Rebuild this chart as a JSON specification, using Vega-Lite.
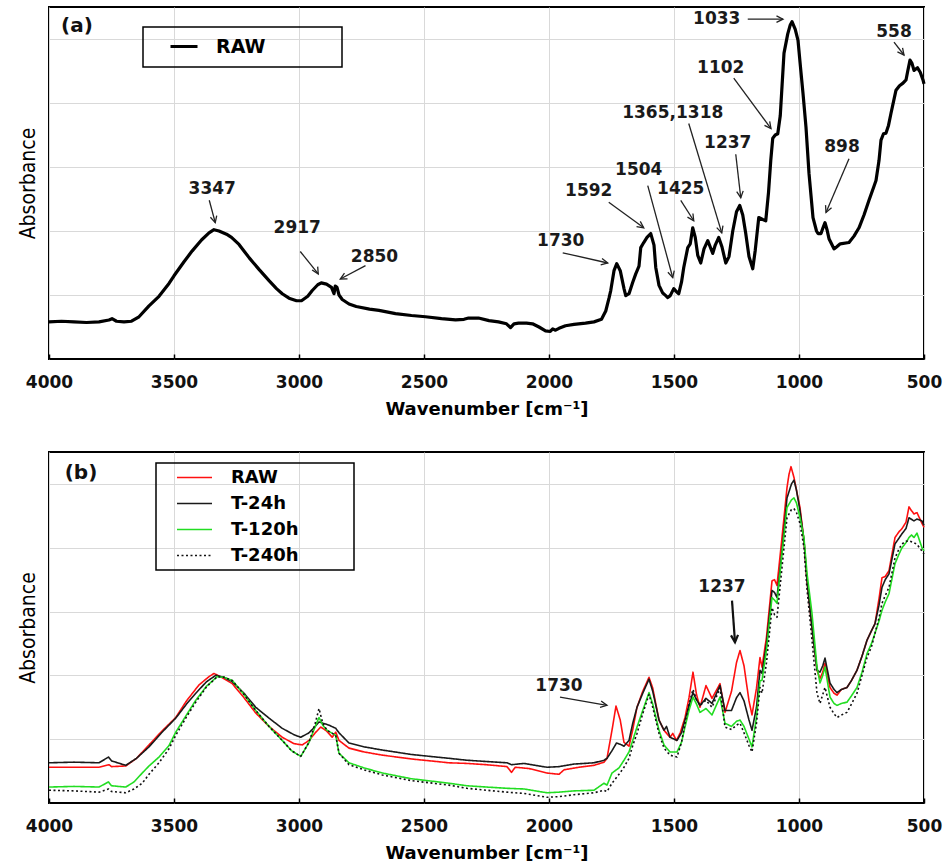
{
"$schema": "https://vega.github.io/schema/vega-lite/v6.json",
"padding": {"left": 16, "top": 6, "right": 5, "bottom": 5},
"spacing": 32,
"background": "white",
"config": {
  "view": {"stroke": "#000", "strokeWidth": 2},
  "font": "DejaVu Sans",
  "axis": {"domain": false, "gridColor": "#d9d9d9", "gridWidth": 1, "labelColor": "#111", "titleColor": "#000", "tickColor": "#000"},
  "legend": {"strokeWidth": 1.5}
},
"resolve": {"scale": {"x": "independent", "y": "independent", "color": "independent", "strokeDash": "independent"}, "legend": {"color": "independent", "strokeDash": "independent"}},
"datasets": {
  "specA": [
{"wn":4000,"abs":0.58},{"wn":3950,"abs":0.59},{"wn":3900,"abs":0.58},{"wn":3850,"abs":0.57},{"wn":3800,"abs":0.58},{"wn":3760,"abs":0.61},{"wn":3748,"abs":0.63},{"wn":3730,"abs":0.59},{"wn":3700,"abs":0.58},{"wn":3670,"abs":0.59},{"wn":3640,"abs":0.66},{"wn":3600,"abs":0.83},{"wn":3560,"abs":0.98},{"wn":3520,"abs":1.18},{"wn":3500,"abs":1.30},{"wn":3460,"abs":1.52},{"wn":3427,"abs":1.69},{"wn":3390,"abs":1.86},{"wn":3360,"abs":1.97},{"wn":3340,"abs":2.02},{"wn":3320,"abs":2.00},{"wn":3290,"abs":1.95},{"wn":3270,"abs":1.90},{"wn":3240,"abs":1.79},{"wn":3199,"abs":1.58},{"wn":3160,"abs":1.40},{"wn":3119,"abs":1.22},{"wn":3090,"abs":1.10},{"wn":3067,"abs":1.02},{"wn":3040,"abs":0.95},{"wn":3010,"abs":0.91},{"wn":2990,"abs":0.91},{"wn":2965,"abs":0.98},{"wn":2947,"abs":1.07},{"wn":2925,"abs":1.16},{"wn":2911,"abs":1.19},{"wn":2890,"abs":1.17},{"wn":2870,"abs":1.12},{"wn":2860,"abs":1.02},{"wn":2855,"abs":1.14},{"wn":2848,"abs":1.12},{"wn":2840,"abs":1.00},{"wn":2827,"abs":0.93},{"wn":2800,"abs":0.86},{"wn":2771,"abs":0.82},{"wn":2718,"abs":0.78},{"wn":2680,"abs":0.76},{"wn":2614,"abs":0.71},{"wn":2550,"abs":0.68},{"wn":2494,"abs":0.66},{"wn":2430,"abs":0.63},{"wn":2374,"abs":0.61},{"wn":2340,"abs":0.62},{"wn":2322,"abs":0.64},{"wn":2282,"abs":0.64},{"wn":2240,"abs":0.60},{"wn":2202,"abs":0.58},{"wn":2170,"abs":0.55},{"wn":2154,"abs":0.49},{"wn":2140,"abs":0.55},{"wn":2122,"abs":0.56},{"wn":2090,"abs":0.56},{"wn":2066,"abs":0.55},{"wn":2040,"abs":0.50},{"wn":2014,"abs":0.44},{"wn":1995,"abs":0.43},{"wn":1985,"abs":0.47},{"wn":1974,"abs":0.45},{"wn":1960,"abs":0.48},{"wn":1934,"abs":0.52},{"wn":1900,"abs":0.54},{"wn":1854,"abs":0.56},{"wn":1820,"abs":0.58},{"wn":1790,"abs":0.62},{"wn":1773,"abs":0.75},{"wn":1760,"abs":0.95},{"wn":1753,"abs":1.07},{"wn":1740,"abs":1.38},{"wn":1729,"abs":1.49},{"wn":1715,"abs":1.38},{"wn":1700,"abs":1.10},{"wn":1693,"abs":0.99},{"wn":1680,"abs":1.02},{"wn":1665,"abs":1.20},{"wn":1653,"abs":1.33},{"wn":1640,"abs":1.45},{"wn":1633,"abs":1.74},{"wn":1621,"abs":1.82},{"wn":1608,"abs":1.90},{"wn":1593,"abs":1.96},{"wn":1580,"abs":1.78},{"wn":1573,"abs":1.43},{"wn":1560,"abs":1.15},{"wn":1545,"abs":1.03},{"wn":1533,"abs":0.99},{"wn":1525,"abs":0.96},{"wn":1515,"abs":0.99},{"wn":1501,"abs":1.10},{"wn":1490,"abs":1.05},{"wn":1481,"abs":1.02},{"wn":1470,"abs":1.20},{"wn":1461,"abs":1.43},{"wn":1445,"abs":1.74},{"wn":1435,"abs":1.80},{"wn":1425,"abs":2.05},{"wn":1415,"abs":1.90},{"wn":1405,"abs":1.62},{"wn":1393,"abs":1.50},{"wn":1380,"abs":1.72},{"wn":1365,"abs":1.85},{"wn":1355,"abs":1.75},{"wn":1345,"abs":1.65},{"wn":1335,"abs":1.78},{"wn":1321,"abs":1.90},{"wn":1308,"abs":1.75},{"wn":1293,"abs":1.50},{"wn":1280,"abs":1.60},{"wn":1265,"abs":2.00},{"wn":1250,"abs":2.30},{"wn":1237,"abs":2.40},{"wn":1225,"abs":2.25},{"wn":1213,"abs":1.96},{"wn":1200,"abs":1.60},{"wn":1185,"abs":1.41},{"wn":1175,"abs":1.70},{"wn":1161,"abs":2.21},{"wn":1145,"abs":2.18},{"wn":1133,"abs":2.16},{"wn":1122,"abs":2.60},{"wn":1113,"abs":3.10},{"wn":1105,"abs":3.45},{"wn":1095,"abs":3.50},{"wn":1085,"abs":3.52},{"wn":1075,"abs":3.80},{"wn":1060,"abs":4.78},{"wn":1045,"abs":5.08},{"wn":1035,"abs":5.22},{"wn":1028,"abs":5.27},{"wn":1015,"abs":5.15},{"wn":1004,"abs":4.98},{"wn":995,"abs":4.60},{"wn":984,"abs":4.15},{"wn":972,"abs":3.62},{"wn":960,"abs":2.90},{"wn":944,"abs":2.21},{"wn":930,"abs":2.00},{"wn":924,"abs":1.96},{"wn":912,"abs":1.96},{"wn":904,"abs":2.05},{"wn":896,"abs":2.13},{"wn":888,"abs":2.02},{"wn":880,"abs":1.88},{"wn":870,"abs":1.80},{"wn":860,"abs":1.72},{"wn":850,"abs":1.75},{"wn":835,"abs":1.80},{"wn":800,"abs":1.82},{"wn":780,"abs":1.92},{"wn":760,"abs":2.05},{"wn":740,"abs":2.25},{"wn":720,"abs":2.48},{"wn":700,"abs":2.70},{"wn":692,"abs":2.79},{"wn":680,"abs":3.10},{"wn":672,"abs":3.42},{"wn":662,"abs":3.52},{"wn":652,"abs":3.53},{"wn":642,"abs":3.65},{"wn":632,"abs":3.84},{"wn":612,"abs":4.20},{"wn":598,"abs":4.27},{"wn":584,"abs":4.31},{"wn":572,"abs":4.36},{"wn":565,"abs":4.50},{"wn":556,"abs":4.67},{"wn":548,"abs":4.62},{"wn":540,"abs":4.51},{"wn":526,"abs":4.55},{"wn":515,"abs":4.48},{"wn":504,"abs":4.36},{"wn":500,"abs":4.30}
  ],
  "specB": [
{"series":"RAW","wn":4000,"abs":0.56},{"series":"RAW","wn":3900,"abs":0.56},{"series":"RAW","wn":3800,"abs":0.56},{"series":"RAW","wn":3760,"abs":0.60},{"series":"RAW","wn":3750,"abs":0.57},{"series":"RAW","wn":3693,"abs":0.58},{"series":"RAW","wn":3650,"abs":0.70},{"series":"RAW","wn":3600,"abs":0.91},{"series":"RAW","wn":3550,"abs":1.12},{"series":"RAW","wn":3493,"abs":1.34},{"series":"RAW","wn":3450,"abs":1.60},{"series":"RAW","wn":3400,"abs":1.85},{"series":"RAW","wn":3360,"abs":1.98},{"series":"RAW","wn":3340,"abs":2.03},{"series":"RAW","wn":3310,"abs":1.97},{"series":"RAW","wn":3267,"abs":1.87},{"series":"RAW","wn":3220,"abs":1.65},{"series":"RAW","wn":3173,"abs":1.41},{"series":"RAW","wn":3120,"abs":1.20},{"series":"RAW","wn":3067,"abs":1.03},{"series":"RAW","wn":3020,"abs":0.93},{"series":"RAW","wn":2987,"abs":0.91},{"series":"RAW","wn":2960,"abs":0.98},{"series":"RAW","wn":2935,"abs":1.10},{"series":"RAW","wn":2913,"abs":1.19},{"series":"RAW","wn":2890,"abs":1.13},{"series":"RAW","wn":2867,"abs":1.03},{"series":"RAW","wn":2853,"abs":1.11},{"series":"RAW","wn":2840,"abs":0.98},{"series":"RAW","wn":2800,"abs":0.86},{"series":"RAW","wn":2740,"abs":0.80},{"series":"RAW","wn":2667,"abs":0.75},{"series":"RAW","wn":2550,"abs":0.69},{"series":"RAW","wn":2400,"abs":0.63},{"series":"RAW","wn":2328,"abs":0.62},{"series":"RAW","wn":2250,"abs":0.60},{"series":"RAW","wn":2168,"abs":0.57},{"series":"RAW","wn":2150,"abs":0.48},{"series":"RAW","wn":2135,"abs":0.56},{"series":"RAW","wn":2080,"abs":0.54},{"series":"RAW","wn":2008,"abs":0.47},{"series":"RAW","wn":1985,"abs":0.46},{"series":"RAW","wn":1960,"abs":0.45},{"series":"RAW","wn":1940,"abs":0.52},{"series":"RAW","wn":1880,"abs":0.56},{"series":"RAW","wn":1820,"abs":0.59},{"series":"RAW","wn":1780,"abs":0.64},{"series":"RAW","wn":1768,"abs":0.70},{"series":"RAW","wn":1748,"abs":1.14},{"series":"RAW","wn":1732,"abs":1.52},{"series":"RAW","wn":1715,"abs":1.30},{"series":"RAW","wn":1700,"abs":0.95},{"series":"RAW","wn":1680,"abs":0.89},{"series":"RAW","wn":1665,"abs":1.15},{"series":"RAW","wn":1648,"abs":1.50},{"series":"RAW","wn":1625,"abs":1.75},{"series":"RAW","wn":1600,"abs":1.97},{"series":"RAW","wn":1585,"abs":1.80},{"series":"RAW","wn":1560,"abs":1.30},{"series":"RAW","wn":1540,"abs":1.14},{"series":"RAW","wn":1516,"abs":1.03},{"series":"RAW","wn":1505,"abs":1.09},{"series":"RAW","wn":1490,"abs":0.98},{"series":"RAW","wn":1475,"abs":1.10},{"series":"RAW","wn":1456,"abs":1.34},{"series":"RAW","wn":1440,"abs":1.65},{"series":"RAW","wn":1424,"abs":2.05},{"series":"RAW","wn":1410,"abs":1.70},{"series":"RAW","wn":1396,"abs":1.50},{"series":"RAW","wn":1372,"abs":1.84},{"series":"RAW","wn":1348,"abs":1.64},{"series":"RAW","wn":1316,"abs":1.87},{"series":"RAW","wn":1296,"abs":1.42},{"series":"RAW","wn":1270,"abs":1.75},{"series":"RAW","wn":1250,"abs":2.20},{"series":"RAW","wn":1236,"abs":2.39},{"series":"RAW","wn":1220,"abs":2.15},{"series":"RAW","wn":1200,"abs":1.60},{"series":"RAW","wn":1188,"abs":1.38},{"series":"RAW","wn":1170,"abs":1.80},{"series":"RAW","wn":1156,"abs":2.28},{"series":"RAW","wn":1148,"abs":2.13},{"series":"RAW","wn":1130,"abs":2.60},{"series":"RAW","wn":1108,"abs":3.48},{"series":"RAW","wn":1098,"abs":3.50},{"series":"RAW","wn":1088,"abs":3.41},{"series":"RAW","wn":1068,"abs":4.16},{"series":"RAW","wn":1048,"abs":4.94},{"series":"RAW","wn":1040,"abs":5.15},{"series":"RAW","wn":1032,"abs":5.27},{"series":"RAW","wn":1020,"abs":5.10},{"series":"RAW","wn":1010,"abs":4.90},{"series":"RAW","wn":996,"abs":4.63},{"series":"RAW","wn":980,"abs":4.11},{"series":"RAW","wn":968,"abs":3.48},{"series":"RAW","wn":948,"abs":2.75},{"series":"RAW","wn":928,"abs":2.08},{"series":"RAW","wn":916,"abs":1.95},{"series":"RAW","wn":905,"abs":2.05},{"series":"RAW","wn":896,"abs":2.19},{"series":"RAW","wn":876,"abs":1.81},{"series":"RAW","wn":860,"abs":1.72},{"series":"RAW","wn":848,"abs":1.69},{"series":"RAW","wn":830,"abs":1.78},{"series":"RAW","wn":808,"abs":1.81},{"series":"RAW","wn":790,"abs":1.92},{"series":"RAW","wn":768,"abs":2.08},{"series":"RAW","wn":748,"abs":2.30},{"series":"RAW","wn":728,"abs":2.55},{"series":"RAW","wn":710,"abs":2.70},{"series":"RAW","wn":696,"abs":2.81},{"series":"RAW","wn":680,"abs":3.20},{"series":"RAW","wn":668,"abs":3.53},{"series":"RAW","wn":655,"abs":3.55},{"series":"RAW","wn":640,"abs":3.64},{"series":"RAW","wn":616,"abs":4.16},{"series":"RAW","wn":600,"abs":4.25},{"series":"RAW","wn":588,"abs":4.30},{"series":"RAW","wn":572,"abs":4.40},{"series":"RAW","wn":560,"abs":4.64},{"series":"RAW","wn":550,"abs":4.58},{"series":"RAW","wn":540,"abs":4.53},{"series":"RAW","wn":528,"abs":4.55},{"series":"RAW","wn":508,"abs":4.38},{"series":"RAW","wn":500,"abs":4.32},
{"series":"T-24h","wn":4000,"abs":0.63},{"series":"T-24h","wn":3900,"abs":0.64},{"series":"T-24h","wn":3800,"abs":0.63},{"series":"T-24h","wn":3762,"abs":0.72},{"series":"T-24h","wn":3750,"abs":0.66},{"series":"T-24h","wn":3693,"abs":0.59},{"series":"T-24h","wn":3650,"abs":0.70},{"series":"T-24h","wn":3600,"abs":0.88},{"series":"T-24h","wn":3550,"abs":1.10},{"series":"T-24h","wn":3493,"abs":1.33},{"series":"T-24h","wn":3450,"abs":1.55},{"series":"T-24h","wn":3413,"abs":1.72},{"series":"T-24h","wn":3370,"abs":1.90},{"series":"T-24h","wn":3333,"abs":2.00},{"series":"T-24h","wn":3300,"abs":1.97},{"series":"T-24h","wn":3267,"abs":1.90},{"series":"T-24h","wn":3220,"abs":1.72},{"series":"T-24h","wn":3173,"abs":1.50},{"series":"T-24h","wn":3120,"abs":1.33},{"series":"T-24h","wn":3067,"abs":1.17},{"series":"T-24h","wn":3020,"abs":1.07},{"series":"T-24h","wn":2993,"abs":1.03},{"series":"T-24h","wn":2960,"abs":1.10},{"series":"T-24h","wn":2935,"abs":1.20},{"series":"T-24h","wn":2920,"abs":1.27},{"series":"T-24h","wn":2880,"abs":1.22},{"series":"T-24h","wn":2853,"abs":1.17},{"series":"T-24h","wn":2840,"abs":1.10},{"series":"T-24h","wn":2800,"abs":0.94},{"series":"T-24h","wn":2740,"abs":0.88},{"series":"T-24h","wn":2667,"abs":0.83},{"series":"T-24h","wn":2550,"abs":0.76},{"series":"T-24h","wn":2400,"abs":0.70},{"series":"T-24h","wn":2328,"abs":0.67},{"series":"T-24h","wn":2250,"abs":0.65},{"series":"T-24h","wn":2168,"abs":0.63},{"series":"T-24h","wn":2150,"abs":0.60},{"series":"T-24h","wn":2100,"abs":0.62},{"series":"T-24h","wn":2008,"abs":0.56},{"series":"T-24h","wn":1960,"abs":0.57},{"series":"T-24h","wn":1900,"abs":0.61},{"series":"T-24h","wn":1820,"abs":0.63},{"series":"T-24h","wn":1780,"abs":0.67},{"series":"T-24h","wn":1768,"abs":0.70},{"series":"T-24h","wn":1748,"abs":0.82},{"series":"T-24h","wn":1730,"abs":0.94},{"series":"T-24h","wn":1715,"abs":0.92},{"series":"T-24h","wn":1700,"abs":0.89},{"series":"T-24h","wn":1680,"abs":0.98},{"series":"T-24h","wn":1665,"abs":1.25},{"series":"T-24h","wn":1648,"abs":1.50},{"series":"T-24h","wn":1625,"abs":1.72},{"series":"T-24h","wn":1600,"abs":1.94},{"series":"T-24h","wn":1585,"abs":1.75},{"series":"T-24h","wn":1560,"abs":1.30},{"series":"T-24h","wn":1540,"abs":1.14},{"series":"T-24h","wn":1530,"abs":1.20},{"series":"T-24h","wn":1516,"abs":1.03},{"series":"T-24h","wn":1488,"abs":0.98},{"series":"T-24h","wn":1470,"abs":1.10},{"series":"T-24h","wn":1456,"abs":1.30},{"series":"T-24h","wn":1440,"abs":1.52},{"series":"T-24h","wn":1424,"abs":1.73},{"series":"T-24h","wn":1410,"abs":1.62},{"series":"T-24h","wn":1396,"abs":1.53},{"series":"T-24h","wn":1372,"abs":1.64},{"series":"T-24h","wn":1348,"abs":1.56},{"series":"T-24h","wn":1316,"abs":1.84},{"series":"T-24h","wn":1296,"abs":1.45},{"series":"T-24h","wn":1270,"abs":1.45},{"series":"T-24h","wn":1250,"abs":1.65},{"series":"T-24h","wn":1236,"abs":1.73},{"series":"T-24h","wn":1220,"abs":1.60},{"series":"T-24h","wn":1200,"abs":1.30},{"series":"T-24h","wn":1188,"abs":1.14},{"series":"T-24h","wn":1170,"abs":1.50},{"series":"T-24h","wn":1156,"abs":2.08},{"series":"T-24h","wn":1148,"abs":2.03},{"series":"T-24h","wn":1130,"abs":2.50},{"series":"T-24h","wn":1108,"abs":3.33},{"series":"T-24h","wn":1098,"abs":3.30},{"series":"T-24h","wn":1088,"abs":3.22},{"series":"T-24h","wn":1068,"abs":3.95},{"series":"T-24h","wn":1048,"abs":4.78},{"series":"T-24h","wn":1030,"abs":5.00},{"series":"T-24h","wn":1020,"abs":5.06},{"series":"T-24h","wn":1010,"abs":4.90},{"series":"T-24h","wn":996,"abs":4.58},{"series":"T-24h","wn":980,"abs":4.11},{"series":"T-24h","wn":968,"abs":3.48},{"series":"T-24h","wn":948,"abs":2.75},{"series":"T-24h","wn":928,"abs":2.08},{"series":"T-24h","wn":916,"abs":2.05},{"series":"T-24h","wn":905,"abs":2.15},{"series":"T-24h","wn":896,"abs":2.27},{"series":"T-24h","wn":876,"abs":1.88},{"series":"T-24h","wn":860,"abs":1.78},{"series":"T-24h","wn":848,"abs":1.73},{"series":"T-24h","wn":830,"abs":1.78},{"series":"T-24h","wn":808,"abs":1.81},{"series":"T-24h","wn":790,"abs":1.92},{"series":"T-24h","wn":768,"abs":2.08},{"series":"T-24h","wn":748,"abs":2.30},{"series":"T-24h","wn":728,"abs":2.55},{"series":"T-24h","wn":710,"abs":2.70},{"series":"T-24h","wn":696,"abs":2.81},{"series":"T-24h","wn":680,"abs":3.10},{"series":"T-24h","wn":668,"abs":3.38},{"series":"T-24h","wn":655,"abs":3.50},{"series":"T-24h","wn":640,"abs":3.59},{"series":"T-24h","wn":616,"abs":4.06},{"series":"T-24h","wn":600,"abs":4.15},{"series":"T-24h","wn":588,"abs":4.22},{"series":"T-24h","wn":572,"abs":4.30},{"series":"T-24h","wn":560,"abs":4.47},{"series":"T-24h","wn":540,"abs":4.42},{"series":"T-24h","wn":528,"abs":4.45},{"series":"T-24h","wn":508,"abs":4.42},{"series":"T-24h","wn":500,"abs":4.35},
{"series":"T-120h","wn":4000,"abs":0.25},{"series":"T-120h","wn":3900,"abs":0.26},{"series":"T-120h","wn":3800,"abs":0.25},{"series":"T-120h","wn":3762,"abs":0.33},{"series":"T-120h","wn":3750,"abs":0.27},{"series":"T-120h","wn":3693,"abs":0.25},{"series":"T-120h","wn":3660,"abs":0.33},{"series":"T-120h","wn":3627,"abs":0.47},{"series":"T-120h","wn":3600,"abs":0.58},{"series":"T-120h","wn":3560,"abs":0.72},{"series":"T-120h","wn":3520,"abs":0.90},{"series":"T-120h","wn":3493,"abs":1.11},{"series":"T-120h","wn":3450,"abs":1.38},{"series":"T-120h","wn":3413,"abs":1.61},{"series":"T-120h","wn":3370,"abs":1.83},{"series":"T-120h","wn":3327,"abs":1.98},{"series":"T-120h","wn":3300,"abs":1.97},{"series":"T-120h","wn":3267,"abs":1.92},{"series":"T-120h","wn":3220,"abs":1.70},{"series":"T-120h","wn":3173,"abs":1.45},{"series":"T-120h","wn":3120,"abs":1.20},{"series":"T-120h","wn":3067,"abs":0.98},{"series":"T-120h","wn":3030,"abs":0.82},{"series":"T-120h","wn":2993,"abs":0.73},{"series":"T-120h","wn":2960,"abs":0.95},{"series":"T-120h","wn":2935,"abs":1.20},{"series":"T-120h","wn":2920,"abs":1.34},{"series":"T-120h","wn":2905,"abs":1.22},{"series":"T-120h","wn":2888,"abs":1.14},{"series":"T-120h","wn":2853,"abs":1.06},{"series":"T-120h","wn":2840,"abs":0.78},{"series":"T-120h","wn":2800,"abs":0.63},{"series":"T-120h","wn":2740,"abs":0.55},{"series":"T-120h","wn":2667,"abs":0.47},{"series":"T-120h","wn":2550,"abs":0.38},{"series":"T-120h","wn":2400,"abs":0.31},{"series":"T-120h","wn":2328,"abs":0.27},{"series":"T-120h","wn":2250,"abs":0.25},{"series":"T-120h","wn":2168,"abs":0.23},{"series":"T-120h","wn":2100,"abs":0.22},{"series":"T-120h","wn":2008,"abs":0.16},{"series":"T-120h","wn":1960,"abs":0.17},{"series":"T-120h","wn":1900,"abs":0.19},{"series":"T-120h","wn":1820,"abs":0.20},{"series":"T-120h","wn":1780,"abs":0.31},{"series":"T-120h","wn":1768,"abs":0.28},{"series":"T-120h","wn":1748,"abs":0.47},{"series":"T-120h","wn":1720,"abs":0.55},{"series":"T-120h","wn":1700,"abs":0.67},{"series":"T-120h","wn":1680,"abs":0.80},{"series":"T-120h","wn":1665,"abs":0.98},{"series":"T-120h","wn":1648,"abs":1.19},{"series":"T-120h","wn":1625,"abs":1.45},{"series":"T-120h","wn":1600,"abs":1.73},{"series":"T-120h","wn":1585,"abs":1.55},{"series":"T-120h","wn":1560,"abs":1.14},{"series":"T-120h","wn":1540,"abs":0.91},{"series":"T-120h","wn":1516,"abs":0.80},{"series":"T-120h","wn":1488,"abs":0.80},{"series":"T-120h","wn":1470,"abs":0.95},{"series":"T-120h","wn":1456,"abs":1.19},{"series":"T-120h","wn":1440,"abs":1.45},{"series":"T-120h","wn":1424,"abs":1.66},{"series":"T-120h","wn":1410,"abs":1.55},{"series":"T-120h","wn":1396,"abs":1.42},{"series":"T-120h","wn":1372,"abs":1.48},{"series":"T-120h","wn":1348,"abs":1.38},{"series":"T-120h","wn":1316,"abs":1.66},{"series":"T-120h","wn":1296,"abs":1.25},{"series":"T-120h","wn":1270,"abs":1.20},{"series":"T-120h","wn":1250,"abs":1.28},{"series":"T-120h","wn":1236,"abs":1.30},{"series":"T-120h","wn":1220,"abs":1.20},{"series":"T-120h","wn":1200,"abs":1.00},{"series":"T-120h","wn":1188,"abs":0.88},{"series":"T-120h","wn":1170,"abs":1.35},{"series":"T-120h","wn":1156,"abs":1.92},{"series":"T-120h","wn":1148,"abs":1.92},{"series":"T-120h","wn":1130,"abs":2.40},{"series":"T-120h","wn":1108,"abs":3.22},{"series":"T-120h","wn":1098,"abs":3.18},{"series":"T-120h","wn":1088,"abs":3.13},{"series":"T-120h","wn":1068,"abs":3.91},{"series":"T-120h","wn":1048,"abs":4.63},{"series":"T-120h","wn":1030,"abs":4.75},{"series":"T-120h","wn":1020,"abs":4.78},{"series":"T-120h","wn":1010,"abs":4.70},{"series":"T-120h","wn":996,"abs":4.47},{"series":"T-120h","wn":980,"abs":4.15},{"series":"T-120h","wn":968,"abs":3.60},{"series":"T-120h","wn":948,"abs":2.97},{"series":"T-120h","wn":928,"abs":2.13},{"series":"T-120h","wn":916,"abs":1.88},{"series":"T-120h","wn":905,"abs":2.00},{"series":"T-120h","wn":896,"abs":2.13},{"series":"T-120h","wn":876,"abs":1.66},{"series":"T-120h","wn":860,"abs":1.56},{"series":"T-120h","wn":848,"abs":1.53},{"series":"T-120h","wn":830,"abs":1.56},{"series":"T-120h","wn":808,"abs":1.58},{"series":"T-120h","wn":790,"abs":1.68},{"series":"T-120h","wn":768,"abs":1.81},{"series":"T-120h","wn":748,"abs":2.05},{"series":"T-120h","wn":728,"abs":2.34},{"series":"T-120h","wn":710,"abs":2.50},{"series":"T-120h","wn":696,"abs":2.66},{"series":"T-120h","wn":680,"abs":2.85},{"series":"T-120h","wn":668,"abs":3.02},{"series":"T-120h","wn":655,"abs":3.15},{"series":"T-120h","wn":640,"abs":3.28},{"series":"T-120h","wn":616,"abs":3.75},{"series":"T-120h","wn":600,"abs":3.90},{"series":"T-120h","wn":588,"abs":4.00},{"series":"T-120h","wn":572,"abs":4.08},{"series":"T-120h","wn":560,"abs":4.16},{"series":"T-120h","wn":550,"abs":4.20},{"series":"T-120h","wn":540,"abs":4.16},{"series":"T-120h","wn":528,"abs":4.23},{"series":"T-120h","wn":508,"abs":4.00},{"series":"T-120h","wn":500,"abs":3.95},
{"series":"T-240h","wn":4000,"abs":0.20},{"series":"T-240h","wn":3900,"abs":0.19},{"series":"T-240h","wn":3800,"abs":0.17},{"series":"T-240h","wn":3762,"abs":0.22},{"series":"T-240h","wn":3750,"abs":0.18},{"series":"T-240h","wn":3693,"abs":0.16},{"series":"T-240h","wn":3660,"abs":0.22},{"series":"T-240h","wn":3627,"abs":0.31},{"series":"T-240h","wn":3600,"abs":0.45},{"series":"T-240h","wn":3560,"abs":0.63},{"series":"T-240h","wn":3520,"abs":0.85},{"series":"T-240h","wn":3493,"abs":1.06},{"series":"T-240h","wn":3450,"abs":1.35},{"series":"T-240h","wn":3413,"abs":1.58},{"series":"T-240h","wn":3370,"abs":1.82},{"series":"T-240h","wn":3327,"abs":1.98},{"series":"T-240h","wn":3300,"abs":1.97},{"series":"T-240h","wn":3267,"abs":1.92},{"series":"T-240h","wn":3220,"abs":1.70},{"series":"T-240h","wn":3173,"abs":1.45},{"series":"T-240h","wn":3120,"abs":1.20},{"series":"T-240h","wn":3067,"abs":0.98},{"series":"T-240h","wn":3030,"abs":0.82},{"series":"T-240h","wn":2993,"abs":0.73},{"series":"T-240h","wn":2960,"abs":0.95},{"series":"T-240h","wn":2935,"abs":1.25},{"series":"T-240h","wn":2920,"abs":1.48},{"series":"T-240h","wn":2905,"abs":1.25},{"series":"T-240h","wn":2888,"abs":1.14},{"series":"T-240h","wn":2853,"abs":1.06},{"series":"T-240h","wn":2840,"abs":0.78},{"series":"T-240h","wn":2800,"abs":0.60},{"series":"T-240h","wn":2740,"abs":0.52},{"series":"T-240h","wn":2667,"abs":0.44},{"series":"T-240h","wn":2550,"abs":0.35},{"series":"T-240h","wn":2400,"abs":0.28},{"series":"T-240h","wn":2328,"abs":0.23},{"series":"T-240h","wn":2250,"abs":0.20},{"series":"T-240h","wn":2168,"abs":0.17},{"series":"T-240h","wn":2100,"abs":0.15},{"series":"T-240h","wn":2008,"abs":0.09},{"series":"T-240h","wn":1960,"abs":0.10},{"series":"T-240h","wn":1900,"abs":0.13},{"series":"T-240h","wn":1820,"abs":0.16},{"series":"T-240h","wn":1780,"abs":0.20},{"series":"T-240h","wn":1768,"abs":0.18},{"series":"T-240h","wn":1748,"abs":0.31},{"series":"T-240h","wn":1720,"abs":0.45},{"series":"T-240h","wn":1700,"abs":0.56},{"series":"T-240h","wn":1680,"abs":0.70},{"series":"T-240h","wn":1665,"abs":0.90},{"series":"T-240h","wn":1648,"abs":1.09},{"series":"T-240h","wn":1625,"abs":1.40},{"series":"T-240h","wn":1600,"abs":1.70},{"series":"T-240h","wn":1585,"abs":1.50},{"series":"T-240h","wn":1560,"abs":1.09},{"series":"T-240h","wn":1540,"abs":0.86},{"series":"T-240h","wn":1516,"abs":0.75},{"series":"T-240h","wn":1488,"abs":0.72},{"series":"T-240h","wn":1470,"abs":0.95},{"series":"T-240h","wn":1456,"abs":1.25},{"series":"T-240h","wn":1440,"abs":1.55},{"series":"T-240h","wn":1424,"abs":1.78},{"series":"T-240h","wn":1410,"abs":1.62},{"series":"T-240h","wn":1396,"abs":1.53},{"series":"T-240h","wn":1372,"abs":1.61},{"series":"T-240h","wn":1348,"abs":1.50},{"series":"T-240h","wn":1316,"abs":1.80},{"series":"T-240h","wn":1296,"abs":1.19},{"series":"T-240h","wn":1270,"abs":1.15},{"series":"T-240h","wn":1250,"abs":1.22},{"series":"T-240h","wn":1236,"abs":1.25},{"series":"T-240h","wn":1220,"abs":1.10},{"series":"T-240h","wn":1200,"abs":0.90},{"series":"T-240h","wn":1188,"abs":0.80},{"series":"T-240h","wn":1170,"abs":1.25},{"series":"T-240h","wn":1156,"abs":1.81},{"series":"T-240h","wn":1148,"abs":1.72},{"series":"T-240h","wn":1130,"abs":2.20},{"series":"T-240h","wn":1108,"abs":3.06},{"series":"T-240h","wn":1098,"abs":2.95},{"series":"T-240h","wn":1088,"abs":2.91},{"series":"T-240h","wn":1068,"abs":3.69},{"series":"T-240h","wn":1048,"abs":4.47},{"series":"T-240h","wn":1030,"abs":4.60},{"series":"T-240h","wn":1020,"abs":4.61},{"series":"T-240h","wn":1010,"abs":4.55},{"series":"T-240h","wn":996,"abs":4.38},{"series":"T-240h","wn":980,"abs":4.00},{"series":"T-240h","wn":968,"abs":3.35},{"series":"T-240h","wn":948,"abs":2.55},{"series":"T-240h","wn":928,"abs":1.72},{"series":"T-240h","wn":916,"abs":1.56},{"series":"T-240h","wn":905,"abs":1.70},{"series":"T-240h","wn":896,"abs":1.81},{"series":"T-240h","wn":876,"abs":1.50},{"series":"T-240h","wn":860,"abs":1.40},{"series":"T-240h","wn":848,"abs":1.34},{"series":"T-240h","wn":830,"abs":1.38},{"series":"T-240h","wn":808,"abs":1.42},{"series":"T-240h","wn":790,"abs":1.55},{"series":"T-240h","wn":768,"abs":1.72},{"series":"T-240h","wn":748,"abs":2.00},{"series":"T-240h","wn":728,"abs":2.28},{"series":"T-240h","wn":710,"abs":2.45},{"series":"T-240h","wn":696,"abs":2.66},{"series":"T-240h","wn":680,"abs":2.90},{"series":"T-240h","wn":668,"abs":3.13},{"series":"T-240h","wn":655,"abs":3.25},{"series":"T-240h","wn":640,"abs":3.38},{"series":"T-240h","wn":616,"abs":3.84},{"series":"T-240h","wn":600,"abs":3.98},{"series":"T-240h","wn":588,"abs":4.06},{"series":"T-240h","wn":572,"abs":4.10},{"series":"T-240h","wn":560,"abs":4.11},{"series":"T-240h","wn":540,"abs":4.08},{"series":"T-240h","wn":528,"abs":4.05},{"series":"T-240h","wn":508,"abs":3.95},{"series":"T-240h","wn":500,"abs":3.90}
  ],
  "annA": [
{"label":"3347","lw":3347,"lv":2.66,"tw":3359,"tv":2.48,"hw":3335,"hv":2.13,"angle":165},
{"label":"2917","lw":3007,"lv":2.05,"tw":2995,"tv":1.68,"hw":2923,"hv":1.33,"angle":149},
{"label":"2850","lw":2698,"lv":1.60,"tw":2734,"tv":1.46,"hw":2835,"hv":1.25,"angle":242},
{"label":"1730","lw":1953,"lv":1.84,"tw":1945,"tv":1.66,"hw":1765,"hv":1.50,"angle":102},
{"label":"1592","lw":1841,"lv":2.63,"tw":1761,"tv":2.45,"hw":1621,"hv":2.05,"angle":125},
{"label":"1504","lw":1641,"lv":2.95,"tw":1605,"tv":2.71,"hw":1505,"hv":1.27,"angle":165},
{"label":"1425","lw":1473,"lv":2.65,"tw":1473,"tv":2.48,"hw":1421,"hv":2.16,"angle":147},
{"label":"1365,1318","lw":1505,"lv":3.84,"tw":1441,"tv":3.68,"hw":1309,"hv":1.97,"angle":163},
{"label":"1237","lw":1285,"lv":3.37,"tw":1253,"tv":3.20,"hw":1233,"hv":2.52,"angle":173},
{"label":"1102","lw":1313,"lv":4.55,"tw":1261,"tv":4.39,"hw":1112,"hv":3.60,"angle":143},
{"label":"1033","lw":1329,"lv":5.31,"tw":1205,"tv":5.31,"hw":1064,"hv":5.31,"angle":90},
{"label":"898","lw":828,"lv":3.31,"tw":800,"tv":3.13,"hw":892,"hv":2.29,"angle":203},
{"label":"558","lw":620,"lv":5.11,"tw":620,"tv":4.95,"hw":580,"hv":4.75,"angle":142}
  ],
  "annB": [
{"label":"1730","lw":1960,"lv":1.83,"tw":1956,"tv":1.66,"hw":1768,"hv":1.53,"angle":100},
{"label":"1237","lw":1308,"lv":3.38,"tw":1268,"tv":3.17,"hw":1256,"hv":2.52,"angle":176}
  ],
  "tagA": [{"tag":"(a)","wn":3888,"abs":5.20}],
  "tagB": [{"tag":"(b)","wn":3872,"abs":5.17}]
},
"vconcat": [
 {
  "width": 875, "height": 352,
  "layer": [
   {"data": {"name": "specA"}, "transform": [{"calculate": "'RAW'", "as": "sample"}],
    "mark": {"type": "line", "strokeWidth": 3.2, "strokeJoin": "round"},
    "encoding": {
      "x": {"field": "wn", "type": "quantitative", "title": "Wavenumber [cm⁻¹]",
            "scale": {"domain": [500, 4000], "reverse": true, "nice": false, "zero": false},
            "axis": {"values": [4000,3500,3000,2500,2000,1500,1000,500], "format": "d", "grid": true, "labelFlush": false, "labelOverlap": false,
                     "labelFont": "DejaVu Sans", "labelFontWeight": "bold", "labelFontSize": 17, "labelPadding": 20, "tickSize": -5, "tickWidth": 1.5,
                     "titleFont": "DejaVu Sans", "titleFontWeight": "bold", "titleFontSize": 18, "titlePadding": 10}},
      "y": {"field": "abs", "type": "quantitative", "title": "Absorbance",
            "scale": {"domain": [0, 5.5], "nice": false, "zero": false},
            "axis": {"values": [1,2,3,4,5], "labels": false, "ticks": false, "grid": true, "minExtent": 0,
                     "titleFont": "DejaVu Sans Condensed", "titleFontWeight": "normal", "titleFontSize": 21, "titlePadding": 11}},
      "color": {"field": "sample", "type": "nominal", "scale": {"domain": ["RAW"], "range": ["#000000"]},
                "legend": {"orient": "none", "legendX": 94, "legendY": 20, "title": null, "strokeColor": "#000", "padding": 10, "clipHeight": 19,
                           "symbolType": "stroke", "symbolSize": 729, "symbolStrokeWidth": 3, "symbolOffset": 16, "labelOffset": 17,
                           "labelFont": "DejaVu Sans", "labelFontWeight": "bold", "labelFontSize": 19, "labelColor": "#000",
                           "labelExpr": "datum.label + '\u00a0\u00a0\u00a0\u00a0\u00a0\u00a0\u00a0\u00a0\u00a0\u00a0\u200b'"}}
    }},
   {"data": {"name": "annA"},
    "mark": {"type": "rule", "color": "#222", "strokeWidth": 1.3},
    "encoding": {"x": {"field": "tw", "type": "quantitative", "title": "Wavenumber [cm⁻¹]"}, "x2": {"field": "hw"},
                 "y": {"field": "tv", "type": "quantitative", "title": "Absorbance"}, "y2": {"field": "hv"}}},
   {"data": {"name": "annA"},
    "mark": {"type": "point", "shape": "M-0.5,1L0,0L0.5,1", "filled": false, "size": 170, "color": "#222", "strokeWidth": 1.3, "opacity": 1},
    "encoding": {"x": {"field": "hw", "type": "quantitative", "title": "Wavenumber [cm⁻¹]"}, "y": {"field": "hv", "type": "quantitative", "title": "Absorbance"},
                 "angle": {"field": "angle", "type": "quantitative", "scale": null}}},
   {"data": {"name": "annA"},
    "mark": {"type": "text", "font": "DejaVu Sans", "fontWeight": "bold", "fontSize": 17, "color": "#1a1a1a", "align": "center", "baseline": "middle"},
    "encoding": {"x": {"field": "lw", "type": "quantitative", "title": "Wavenumber [cm⁻¹]"}, "y": {"field": "lv", "type": "quantitative", "title": "Absorbance"},
                 "text": {"field": "label"}}},
   {"data": {"name": "tagA"},
    "mark": {"type": "text", "font": "DejaVu Sans", "fontWeight": "bold", "fontSize": 20, "color": "#111", "align": "center", "baseline": "middle"},
    "encoding": {"x": {"field": "wn", "type": "quantitative", "title": "Wavenumber [cm⁻¹]"}, "y": {"field": "abs", "type": "quantitative", "title": "Absorbance"},
                 "text": {"field": "tag"}}}
  ]
 },
 {
  "width": 875, "height": 351,
  "layer": [
   {"data": {"name": "specB"},
    "mark": {"type": "line", "strokeWidth": 1.6, "strokeJoin": "round"},
    "encoding": {
      "x": {"field": "wn", "type": "quantitative", "title": "Wavenumber [cm⁻¹]",
            "scale": {"domain": [500, 4000], "reverse": true, "nice": false, "zero": false},
            "axis": {"values": [4000,3500,3000,2500,2000,1500,1000,500], "format": "d", "grid": true, "labelFlush": false, "labelOverlap": false,
                     "labelFont": "DejaVu Sans", "labelFontWeight": "bold", "labelFontSize": 17, "labelPadding": 20, "tickSize": -5, "tickWidth": 1.5,
                     "titleFont": "DejaVu Sans", "titleFontWeight": "bold", "titleFontSize": 18, "titlePadding": 10}},
      "y": {"field": "abs", "type": "quantitative", "title": "Absorbance",
            "scale": {"domain": [0, 5.5], "nice": false, "zero": false},
            "axis": {"values": [1,2,3,4,5], "labels": false, "ticks": false, "grid": true, "minExtent": 0,
                     "titleFont": "DejaVu Sans Condensed", "titleFontWeight": "normal", "titleFontSize": 21, "titlePadding": 11}},
      "color": {"field": "series", "type": "nominal", "scale": {"domain": ["RAW","T-24h","T-120h","T-240h"], "range": ["#ff1010","#1a1a1a","#22dd22","#111111"]},
                "legend": {"orient": "none", "legendX": 107, "legendY": 11, "title": null, "strokeColor": "#000", "padding": 5, "rowPadding": 7, "clipHeight": 19,
                           "symbolType": "stroke", "symbolSize": 1225, "symbolStrokeWidth": 1.6, "symbolOffset": 15, "labelOffset": 18,
                           "labelFont": "DejaVu Sans", "labelFontWeight": "bold", "labelFontSize": 18, "labelColor": "#000",
                           "labelExpr": "datum.label + '\u00a0\u00a0\u00a0\u00a0\u00a0\u00a0\u00a0\u00a0\u200b'"}},
      "strokeDash": {"field": "series", "type": "nominal", "scale": {"domain": ["RAW","T-24h","T-120h","T-240h"], "range": [[1,0],[1,0],[1,0],[2,2.5]]},
                "legend": {"orient": "none", "legendX": 107, "legendY": 11, "title": null, "strokeColor": "#000", "padding": 5, "rowPadding": 7, "clipHeight": 19,
                           "symbolType": "stroke", "symbolSize": 1225, "symbolStrokeWidth": 1.6, "symbolOffset": 15, "labelOffset": 18,
                           "labelFont": "DejaVu Sans", "labelFontWeight": "bold", "labelFontSize": 18, "labelColor": "#000",
                           "labelExpr": "datum.label + '\u00a0\u00a0\u00a0\u00a0\u00a0\u00a0\u00a0\u00a0\u200b'"}}
    }},
   {"data": {"name": "annB"}, "transform": [{"filter": "datum.label == '1730'"}],
    "mark": {"type": "rule", "color": "#222", "strokeWidth": 1.3},
    "encoding": {"x": {"field": "tw", "type": "quantitative", "title": "Wavenumber [cm⁻¹]"}, "x2": {"field": "hw"},
                 "y": {"field": "tv", "type": "quantitative", "title": "Absorbance"}, "y2": {"field": "hv"}}},
   {"data": {"name": "annB"}, "transform": [{"filter": "datum.label == '1237'"}],
    "mark": {"type": "rule", "color": "#111", "strokeWidth": 2.2},
    "encoding": {"x": {"field": "tw", "type": "quantitative", "title": "Wavenumber [cm⁻¹]"}, "x2": {"field": "hw"},
                 "y": {"field": "tv", "type": "quantitative", "title": "Absorbance"}, "y2": {"field": "hv"}}},
   {"data": {"name": "annB"}, "transform": [{"filter": "datum.label == '1730'"}],
    "mark": {"type": "point", "shape": "M-0.5,1L0,0L0.5,1", "filled": false, "size": 170, "color": "#222", "strokeWidth": 1.3, "opacity": 1},
    "encoding": {"x": {"field": "hw", "type": "quantitative", "title": "Wavenumber [cm⁻¹]"}, "y": {"field": "hv", "type": "quantitative", "title": "Absorbance"},
                 "angle": {"field": "angle", "type": "quantitative", "scale": null}}},
   {"data": {"name": "annB"}, "transform": [{"filter": "datum.label == '1237'"}],
    "mark": {"type": "point", "shape": "M-0.5,1L0,0L0.5,1", "filled": false, "size": 200, "color": "#111", "strokeWidth": 2.2, "opacity": 1},
    "encoding": {"x": {"field": "hw", "type": "quantitative", "title": "Wavenumber [cm⁻¹]"}, "y": {"field": "hv", "type": "quantitative", "title": "Absorbance"},
                 "angle": {"field": "angle", "type": "quantitative", "scale": null}}},
   {"data": {"name": "annB"},
    "mark": {"type": "text", "font": "DejaVu Sans", "fontWeight": "bold", "fontSize": 17, "color": "#1a1a1a", "align": "center", "baseline": "middle"},
    "encoding": {"x": {"field": "lw", "type": "quantitative", "title": "Wavenumber [cm⁻¹]"}, "y": {"field": "lv", "type": "quantitative", "title": "Absorbance"},
                 "text": {"field": "label"}}},
   {"data": {"name": "tagB"},
    "mark": {"type": "text", "font": "DejaVu Sans", "fontWeight": "bold", "fontSize": 20, "color": "#111", "align": "center", "baseline": "middle"},
    "encoding": {"x": {"field": "wn", "type": "quantitative", "title": "Wavenumber [cm⁻¹]"}, "y": {"field": "abs", "type": "quantitative", "title": "Absorbance"},
                 "text": {"field": "tag"}}}
  ]
 }
]
}
